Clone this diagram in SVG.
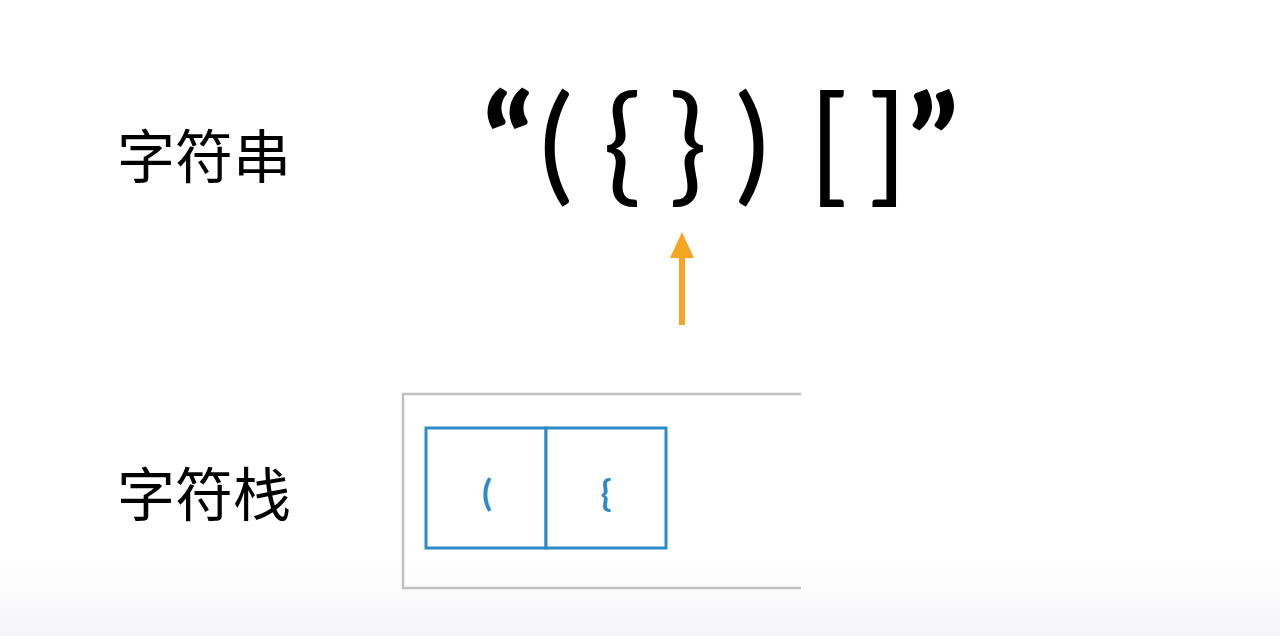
<svg xmlns="http://www.w3.org/2000/svg" width="1280" height="636" viewBox="0 0 1280 636">
<defs>
<linearGradient id="bg" x1="0" y1="0" x2="0" y2="1">
<stop offset="0" stop-color="#ffffff"/>
<stop offset="0.88" stop-color="#ffffff"/>
<stop offset="1" stop-color="#f5f5f8"/>
</linearGradient>
</defs>
<style>
.lbl{font-family:"Noto Sans CJK SC","Noto Sans",sans-serif;font-size:58px;fill:#000}
.ch{font-family:Lato,"Open Sans","Liberation Sans",sans-serif;font-size:128px;fill:#000;text-anchor:middle}
.q{font-weight:900}
.sc{font-family:Lato,"Open Sans","Liberation Sans",sans-serif;font-size:36px;fill:#2E8BC9;text-anchor:middle;font-weight:bold}
.cell{fill:#fff;stroke:#2E8BC9;stroke-width:3}
</style>
<rect width="1280" height="636" fill="url(#bg)"/>
<g id="label-string"><text class="lbl" x="117" y="178">字符串</text></g>
<g id="label-stack"><text class="lbl" x="117" y="516">字符栈</text></g>
<g id="string">
<text class="ch q" x="508" y="188">“</text>
<text class="ch" x="556" y="188">(</text>
<text class="ch" x="622" y="188">{</text>
<text class="ch" x="688" y="188">}</text>
<text class="ch" x="752" y="188">)</text>
<text class="ch" x="828" y="188">[</text>
<text class="ch" x="888" y="188">]</text>
<text class="ch q" x="933" y="188">”</text>
</g>
<g id="connectors">
<line x1="682" y1="325" x2="682" y2="256" stroke="#F5A623" stroke-width="6"/>
<path d="M670,258 L682,232 L694,258 z" fill="#F5A623"/>
</g>
<g id="stack">
<path d="M801,394 L403,394 L403,588 L801,588" fill="none" stroke="#c0c0c0" stroke-width="2.5"/>
<rect class="cell" x="426" y="428" width="120" height="120"/>
<rect class="cell" x="546" y="428" width="120" height="120"/>
<text class="sc" x="487" y="506">(</text>
<text class="sc" x="606" y="506">{</text>
</g>
</svg>
